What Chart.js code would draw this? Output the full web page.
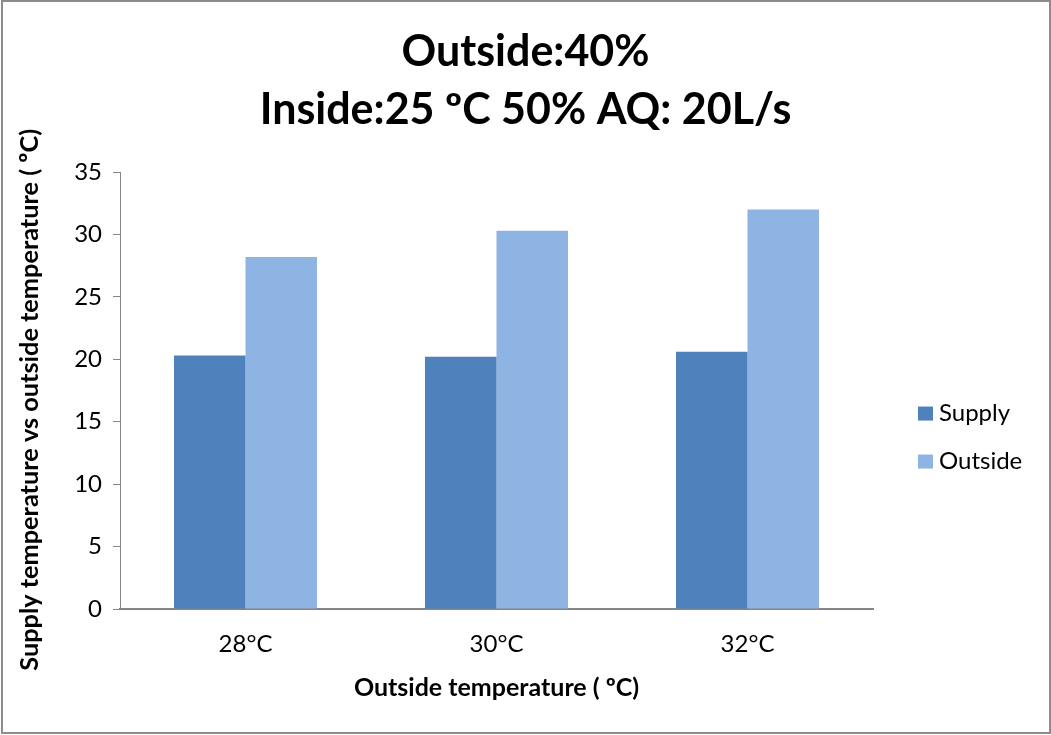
<!DOCTYPE html>
<html>
<head>
<meta charset="utf-8">
<script src="https://cdn.jsdelivr.net/npm/chart.js@4/dist/chart.umd.min.js"></script>
<style>
  html, body { margin: 0; padding: 0; background: #fff; }
  #wrap { position: relative; width: 1051px; height: 735px; }
  #wrap canvas { position: absolute; left: 0; top: 0; }
  #frame { position: absolute; left: 1px; top: 0; width: 1050px; height: 734px; box-sizing: border-box; border: 2px solid #8c8c8c; pointer-events: none; }
</style>
</head>
<body>
<div id="wrap">
  <canvas id="c" width="1051" height="735"></canvas>
  <div id="frame"></div>
</div>
<script>
const categories = ['28°C', '30°C', '32°C'];
const supplyValues = [20.3, 20.2, 20.6];
const outsideValues = [28.2, 30.3, 32.0];
const seriesNames = ['Supply', 'Outside'];
const titleLines = ['Outside:40%', 'Inside:25 ºC 50% AQ: 20L/s'];
const yTitle = 'Supply temperature vs outside temperature ( ºC)\u00a0\u00a0\u00a0';
const xTitle = 'Outside temperature ( ºC)';

const FONT = 'Lato, "Open Sans", sans-serif';

const sideLegend = {
  id: 'sideLegend',
  afterDraw(chart) {
    const ctx = chart.ctx;
    const area = chart.chartArea;
    const x0 = area.right + 45;
    const yMid = (area.top + area.bottom) / 2 + 47;
    const gap = 48;
    const n = chart.data.datasets.length;
    ctx.save();
    ctx.font = '24px ' + FONT;
    ctx.textBaseline = 'middle';
    ctx.textAlign = 'left';
    chart.data.datasets.forEach((ds, i) => {
      const y = yMid + (i - (n - 1) / 2) * gap;
      ctx.fillStyle = ds.backgroundColor;
      ctx.fillRect(x0, y - 7, 15, 14);
      ctx.fillStyle = '#000';
      ctx.fillText(ds.label, x0 + 21, y);
    });
    ctx.restore();
  }
};

new Chart(document.getElementById('c'), {
  type: 'bar',
  data: {
    labels: categories,
    datasets: [
      { label: seriesNames[0], data: supplyValues, backgroundColor: '#4F81BD', barPercentage: 1, categoryPercentage: 0.57 },
      { label: seriesNames[1], data: outsideValues, backgroundColor: '#8EB4E3', barPercentage: 1, categoryPercentage: 0.57 }
    ]
  },
  options: {
    responsive: false,
    animation: false,
    layout: { padding: { left: 0, right: 0, top: 0, bottom: 32 } },
    plugins: {
      legend: { display: false },
      tooltip: { enabled: false },
      title: {
        display: true,
        text: titleLines,
        color: '#000',
        font: { family: FONT, size: 43, weight: 'bold', lineHeight: 1.35 },
        padding: { top: 23, bottom: 33 }
      }
    },
    scales: {
      x: {
        afterFit(scale) { scale.height = 94; },
        grid: { display: false, drawTicks: false },
        border: { display: true, color: '#868686', width: 2 },
        ticks: { color: '#000', font: { family: FONT, size: 24 }, padding: 21 },
        title: { display: true, text: xTitle, color: '#000', font: { family: FONT, size: 25, weight: 'bold' }, padding: { top: 0, bottom: 0 } }
      },
      y: {
        min: 0, max: 35,
        afterFit(scale) { scale.width = 120; },
        ticks: { stepSize: 5, color: '#000', font: { family: FONT, size: 24 }, padding: 11 },
        grid: { drawOnChartArea: false, drawTicks: true, tickLength: 7, color: '#868686', lineWidth: 1 },
        border: { display: true, color: '#868686', width: 1 },
        title: { display: true, text: yTitle, color: '#000', font: { family: FONT, size: 25.3, weight: 'bold' }, padding: { top: 15, bottom: 0 } }
      },
      legendSpace: {
        type: 'linear',
        position: 'right',
        afterFit(scale) { scale.width = 178; },
        grid: { display: false },
        border: { display: false },
        ticks: { display: false },
        title: { display: false }
      }
    }
  },
  plugins: [sideLegend]
});
</script>
</body>
</html>
